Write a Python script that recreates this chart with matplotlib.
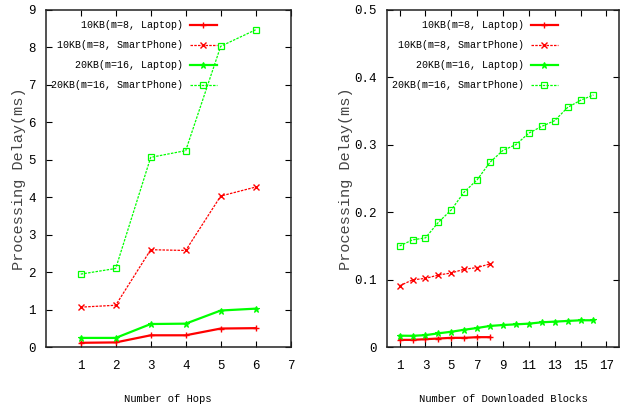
import matplotlib
matplotlib.use("Agg")
import matplotlib.pyplot as plt

plt.rcParams['font.family'] = ['Liberation Mono', 'DejaVu Sans Mono']

# Left panel: Number of hops
hops = [1, 2, 3, 4, 5, 6]
hops_10kb_laptop = [0.12, 0.13, 0.32, 0.32, 0.50, 0.51]
hops_10kb_phone = [1.07, 1.12, 2.60, 2.58, 4.03, 4.27]
hops_20kb_laptop = [0.25, 0.25, 0.62, 0.63, 0.98, 1.03]
hops_20kb_phone = [1.95, 2.10, 5.06, 5.24, 8.02, 8.46]

# Right panel: Number of downloaded blocks
blocks8 = [1, 2, 3, 4, 5, 6, 7, 8]
blocks16 = [1, 2, 3, 4, 5, 6, 7, 8, 9, 10, 11, 12, 13, 14, 15, 16]
blk_10kb_laptop = [0.011, 0.011, 0.012, 0.013, 0.014, 0.014, 0.015, 0.015]
blk_10kb_phone = [0.091, 0.0998, 0.102, 0.107, 0.110, 0.1156, 0.118, 0.1235]
blk_20kb_laptop = [0.0172, 0.017, 0.018, 0.0207, 0.023, 0.026, 0.0286, 0.0316,
                   0.033, 0.034, 0.035, 0.037, 0.038, 0.039, 0.040, 0.040]
blk_20kb_phone = [0.150, 0.159, 0.162, 0.185, 0.2035, 0.2298, 0.248, 0.274,
                  0.2915, 0.300, 0.317, 0.327, 0.3355, 0.355, 0.3656, 0.3735]

labels = ['10KB(m=8, Laptop)', '10KB(m=8, SmartPhone)',
          '20KB(m=16, Laptop)', '20KB(m=16, SmartPhone)']
left_xticks = [1, 2, 3, 4, 5, 6, 7]
left_yticks = [0, 1, 2, 3, 4, 5, 6, 7, 8, 9]
right_xticks = [1, 3, 5, 7, 9, 11, 13, 15, 17]
right_yticks = [0, 0.1, 0.2, 0.3, 0.4, 0.5]
right_yticklabels = ['0', '0.1', '0.2', '0.3', '0.4', '0.5']

RED = '#ff0000'
GREEN = '#00ff00'
dot = (0, (2, 1))

styles = [
    dict(color=RED, lw=1.6, ls='-', marker='+', ms=5, mew=1.0),
    dict(color=RED, lw=0.9, ls=dot, marker='x', ms=4, mew=1.0),
    dict(color=GREEN, lw=1.6, ls='-', marker='*', ms=5, mew=0.8),
    dict(color=GREEN, lw=0.9, ls=dot, marker='s', ms=4, mew=0.9, mfc='none'),
]

fig = plt.figure(figsize=(6.27, 4.13), dpi=100)
ax1 = fig.add_axes([45.7 / 627, 1 - 347.3 / 413, 245 / 627, 337.8 / 413])
ax2 = fig.add_axes([386.7 / 627, 1 - 347.3 / 413, 232.6 / 627, 337.8 / 413])

for ys, st, lb in zip([hops_10kb_laptop, hops_10kb_phone, hops_20kb_laptop, hops_20kb_phone],
                      styles, labels):
    ax1.plot(hops, ys, label=lb, **st)

for xs, ys, st, lb in zip([blocks8, blocks8, blocks16, blocks16],
                          [blk_10kb_laptop, blk_10kb_phone, blk_20kb_laptop, blk_20kb_phone],
                          styles, labels):
    ax2.plot(xs, ys, label=lb, **st)

ax1.set_xlim(0, 7)
ax1.set_ylim(0, 9)
ax1.set_xticks(left_xticks)
ax1.set_yticks(left_yticks)
ax2.set_xlim(0, 18)
ax2.set_ylim(0, 0.5)
ax2.set_xticks(right_xticks)
ax2.set_yticks(right_yticks)
ax2.set_yticklabels(right_yticklabels)

for ax, xl, lx, ylp in [(ax1, 'Number of Hops', 0.699, 2),
                        (ax2, 'Number of Downloaded Blocks', 0.736, 1)]:
    ax.tick_params(direction='in', top=True, right=True, length=4, width=0.8,
                   labelsize=9, pad=7, colors='black')
    ax.tick_params(axis='x', pad=9)
    for s in ax.spines.values():
        s.set_linewidth(1.1)
        s.set_color('#222222')
    ax.set_xlabel(xl, fontsize=7.6, labelpad=16)
    ax.set_ylabel('Processing Delay(ms)', fontsize=11, labelpad=ylp, color='#444444')
    leg = ax.legend(loc='upper right', bbox_to_anchor=(lx, 0.968), frameon=False,
                    markerfirst=False, fontsize=7.2, handlelength=2.7,
                    handletextpad=0.7, labelspacing=1.0, borderpad=0,
                    borderaxespad=0)

fig.savefig('out.png', dpi=100)
